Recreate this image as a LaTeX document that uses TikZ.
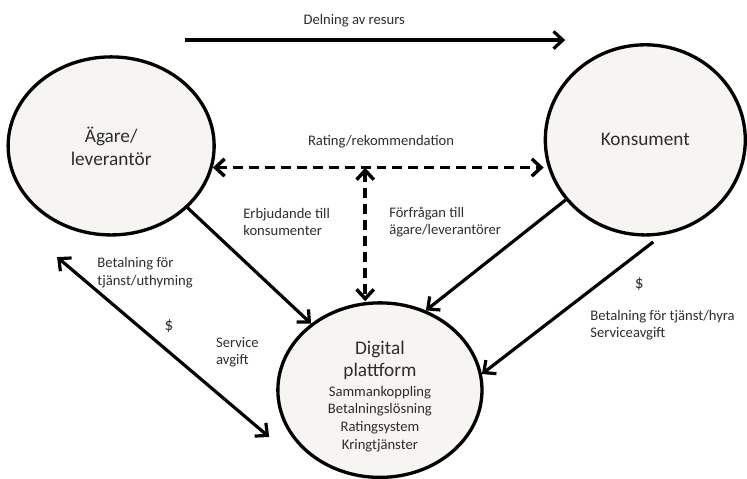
\documentclass[tikz,border=0pt]{standalone}
\usepackage{fontspec}
\setmainfont{Carlito}
\usetikzlibrary{arrows.meta,shapes.geometric}
\definecolor{blobfill}{RGB}{246,245,241}
\definecolor{inkgray}{RGB}{45,45,45}
\newcommand\pfline{\fontsize{11}{13.2}\selectfont}
\tikzset{
  >={Straight Barb[length=7pt,width=13pt]},
  blob/.style={draw, ellipse, line width=2.5pt, fill=blobfill, inner sep=0pt,
    align=center, text=inkgray, font=\fontsize{14.5}{17.3}\selectfont},
  flow/.style={line width=2.4pt},
  rate/.style={line width=2.6pt, dash pattern=on 7.5pt off 4.5pt},
  lbl/.style={align=left, anchor=west, inner sep=0pt, text=inkgray,
    font=\fontsize{11}{13.2}\selectfont},
  dollar/.style={inner sep=0pt, text=inkgray, font=\fontsize{13}{15}\selectfont},
}
\begin{document}
\begin{tikzpicture}
        \useasboundingbox (0,0) rectangle (19.76,12.67);

        % The three actors
        \node[blob, minimum width=5.45cm, minimum height=4.71cm] (ag) at (2.94,8.81) {Ägare/\\leverantör};
        \node[blob, minimum width=5.29cm, minimum height=5.03cm] (ko) at (17.07,8.97) {Konsument};
        \node[blob, minimum width=5.40cm, minimum height=4.60cm] (pf) at (10.05,2.35)
          {\rule{0pt}{20pt}Digital\\[-1pt]plattform\\[-2.5pt]\pfline Sammankoppling\\[-4pt]\pfline Betalningslösning\\[-4pt]\pfline Ratingsystem\\[-4pt]\pfline Kringtjänster};

        % Sharing of the resource
        \coordinate (d1) at (4.89,11.61);
        \coordinate (d2) at (14.95,11.61);
        \draw[flow,->] (d1) -- (d2);
        \node[lbl, anchor=center] (dl) at (9.37,12.12) {Delning av resurs};

        % Rating in both directions
        \coordinate (rt) at (9.66,8.23);
        \draw[rate,<->] (ag.-12) -- (ag.-12 -| ko.west);
        \draw[rate,<->] (rt) -- (rt |- pf.north);
        \node[lbl, anchor=center] (rl) at (10.08,8.92) {Rating/rekommendation};

        % Offers and requests
        \draw[flow,->] (ag.-39) -- (pf.136);
        \node[lbl] (el) at (6.43,6.80) {Erbjudande till\\konsumenter};
        \draw[flow,->] (ko.217) -- (pf.60);
        \node[lbl] (fl) at (10.29,6.80) {Förfrågan till\\ägare/leverantörer};

        % Payments from the consumer
        \coordinate (ks) at (17.28,6.27);
        \draw[flow,->] (ks) -- (pf.9);
        \node[dollar] (kd) at (16.91,5.16) {\$};
        \node[lbl] (kb) at (15.61,4.07) {Betalning för tjänst/hyra\\Serviceavgift};

        % Payments between owner and platform
        \coordinate (b1) at (1.51,5.87);
        \coordinate (b2) at (7.12,1.11);
        \draw[flow,<->] (b1) -- (b2);
        \node[lbl] (ab) at (2.57,5.46) {Betalning för\\tjänst/uthyming};
        \node[dollar] (ad) at (4.47,4.05) {\$};
        \node[lbl] (as) at (5.71,3.35) {Service\\avgift};
    \end{tikzpicture}
\end{document}
